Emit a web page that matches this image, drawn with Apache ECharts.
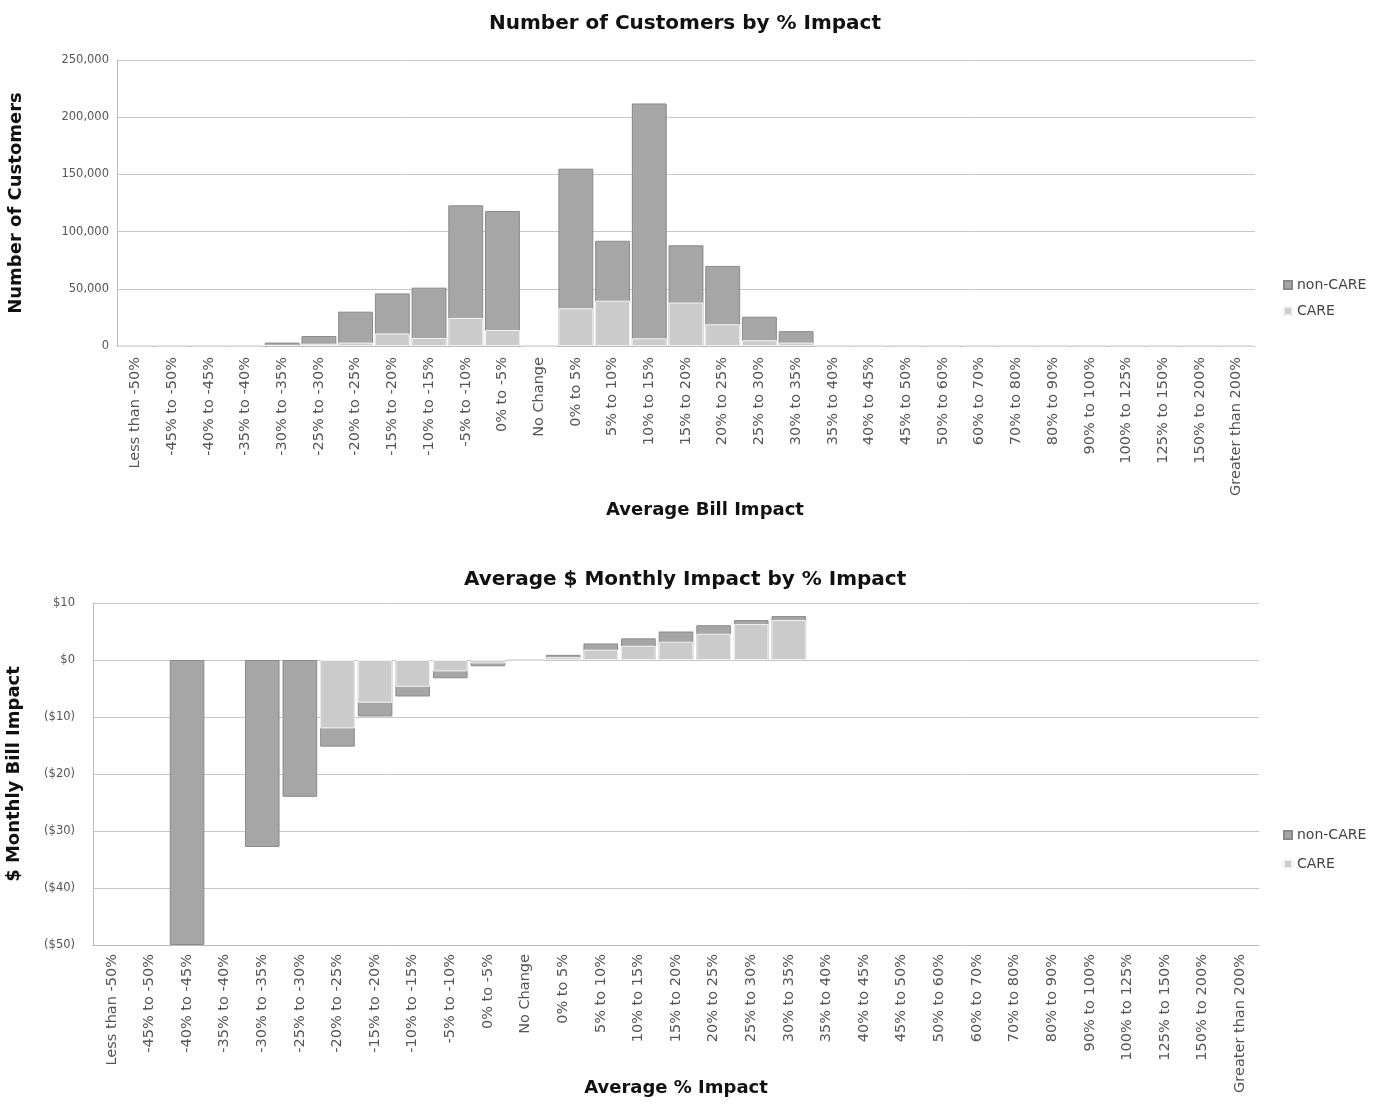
<!DOCTYPE html>
<html>
<head>
<meta charset="utf-8">
<script src="https://cdn.jsdelivr.net/npm/echarts@6/dist/echarts.min.js"></script>
<style>
  html, body { margin: 0; padding: 0; background: #fff; }
  #chart { width: 1385px; height: 1104px; }
</style>
</head>
<body>
<div id="chart"></div>
<script>
// Bill impact buckets shared by both panels
const categories = [
  'Less than -50%', '-45% to -50%', '-40% to -45%', '-35% to -40%', '-30% to -35%',
  '-25% to -30%', '-20% to -25%', '-15% to -20%', '-10% to -15%', '-5% to -10%',
  '0% to -5%', 'No Change', '0% to 5%', '5% to 10%', '10% to 15%', '15% to 20%',
  '20% to 25%', '25% to 30%', '30% to 35%', '35% to 40%', '40% to 45%', '45% to 50%',
  '50% to 60%', '60% to 70%', '70% to 80%', '80% to 90%', '90% to 100%',
  '100% to 125%', '125% to 150%', '150% to 200%', 'Greater than 200%'
];

// Number of customers per bucket
const customersNonCare = [0, 0, 0, 0, 3000, 8700, 30000, 46000, 51000, 123000, 118000, 0,
  155000, 92000, 212000, 88000, 70000, 25600, 13000, 0, 0, 0, 0, 0, 0, 0, 0, 0, 0, 0, 0];
const customersCare = [0, 0, 0, 0, 1000, 2000, 3000, 11000, 7000, 24500, 14000, 0,
  33000, 39600, 6700, 38000, 19000, 5000, 3000, 0, 0, 0, 0, 0, 0, 0, 0, 0, 0, 0, 0];

// Average monthly $ impact per bucket
const dollarsNonCare = [null, null, -50, null, -32.8, -24.0, -15.2, -9.9, -6.4, -3.2, -1.1, 0,
  0.9, 2.9, 3.8, 5.0, 6.1, 7.0, 7.7, null, null, null, null, null, null, null, null, null, null, null, null];
const dollarsCare = [null, null, null, null, null, null, -12.0, -7.5, -4.7, -2.0, -0.6, 0,
  0.5, 1.8, 2.5, 3.2, 4.6, 6.3, 7.0, null, null, null, null, null, null, null, null, null, null, null, null];

// Axis ticks
const customerTicks = { min: 0, max: 250000, interval: 50000 };
const dollarTicks = { min: -50, max: 10, interval: 10 };

const FONT = '"DejaVu Sans", sans-serif';
const nonCareColor = '#a6a6a6';
const careColor = '#cbcbcb';

function fmtCount(v) { return v.toLocaleString('en-US'); }
function fmtDollar(v) { return v < 0 ? '($' + Math.abs(v) + ')' : '$' + v; }

const xLabelStyle = { fontFamily: FONT, fontSize: 14.5, color: '#555' };
const yLabelStyle = { fontFamily: FONT, fontSize: 11.5, color: '#555' };
const nameStyle = { fontFamily: FONT, fontSize: 18, fontWeight: 'bold', color: '#111' };
const titleStyle = { fontFamily: FONT, fontSize: 20, fontWeight: 'bold', color: '#111' };
const legendText = { fontFamily: FONT, fontSize: 14, color: '#444' };

const chart = echarts.init(document.getElementById('chart'), null, { renderer: 'canvas' });

chart.setOption({
  animation: false,
  backgroundColor: '#fff',
  title: [
    { text: 'Number of Customers by % Impact', left: 484, top: 9, textStyle: titleStyle },
    { text: 'Average $ Monthly Impact by % Impact', left: 459, top: 565, textStyle: titleStyle }
  ],
  legend: [
    { orient: 'vertical', left: 1278, top: 273, itemWidth: 8, itemHeight: 8, itemGap: 12,
      icon: 'rect', textStyle: legendText, data: ['non-CARE', 'CARE'] },
    { orient: 'vertical', left: 1278, top: 823, itemWidth: 8, itemHeight: 8, itemGap: 15,
      icon: 'rect', textStyle: legendText, data: ['non-CARE', 'CARE'] }
  ],
  grid: [
    { left: 117, top: 60, width: 1138, height: 286, outerBoundsMode: 'none' },
    { left: 93, top: 603, width: 1166, height: 342, outerBoundsMode: 'none' }
  ],
  xAxis: [
    { type: 'category', gridIndex: 0, data: categories,
      name: 'Average Bill Impact', nameLocation: 'middle', nameGap: 155, nameMoveOverlap: false,
      nameTextStyle: Object.assign({ padding: [0, 0, 0, 38] }, nameStyle),
      axisLine: { lineStyle: { color: '#bbb' } }, axisTick: { show: false },
      axisLabel: Object.assign({ rotate: 90, interval: 0, margin: 11 }, xLabelStyle) },
    { type: 'category', gridIndex: 1, data: categories,
      name: 'Average % Impact', nameLocation: 'middle', nameGap: 134, nameMoveOverlap: false,
      nameTextStyle: nameStyle,
      axisLine: { onZero: false, lineStyle: { color: '#bbb' } }, axisTick: { show: false },
      axisLabel: Object.assign({ rotate: 90, interval: 0, margin: 9 }, xLabelStyle) }
  ],
  yAxis: [
    { type: 'value', gridIndex: 0, min: customerTicks.min, max: customerTicks.max, interval: customerTicks.interval,
      name: 'Number of Customers', nameLocation: 'middle', nameGap: 92, nameMoveOverlap: false,
      nameTextStyle: nameStyle,
      axisLine: { show: true, lineStyle: { color: '#bbb' } }, axisTick: { show: false },
      splitLine: { lineStyle: { color: '#c8c8c8', width: 1 } },
      axisLabel: Object.assign({ formatter: fmtCount, margin: 8 }, yLabelStyle) },
    { type: 'value', gridIndex: 1, min: dollarTicks.min, max: dollarTicks.max, interval: dollarTicks.interval,
      name: '$ Monthly Bill Impact', nameLocation: 'middle', nameGap: 70, nameMoveOverlap: false,
      nameTextStyle: nameStyle,
      axisLine: { show: true, lineStyle: { color: '#bbb' } }, axisTick: { show: false },
      splitLine: { lineStyle: { color: '#c8c8c8', width: 1 } },
      axisLabel: Object.assign({ formatter: fmtDollar, margin: 18 }, yLabelStyle) }
  ],
  series: [
    { name: 'non-CARE', type: 'bar', xAxisIndex: 0, yAxisIndex: 0, data: customersNonCare,
      barGap: '-100%', barCategoryGap: '5%',
      itemStyle: { color: nonCareColor, borderColor: '#8a8a8a', borderWidth: 1 } },
    { name: 'CARE', type: 'bar', xAxisIndex: 0, yAxisIndex: 0, data: customersCare,
      barGap: '-100%', barCategoryGap: '5%',
      itemStyle: { color: careColor, borderColor: '#f2f2f2', borderWidth: 1 } },
    { name: 'non-CARE', type: 'bar', xAxisIndex: 1, yAxisIndex: 1, data: dollarsNonCare,
      barGap: '-100%', barCategoryGap: '8%',
      itemStyle: { color: nonCareColor, borderColor: '#8a8a8a', borderWidth: 1 } },
    { name: 'CARE', type: 'bar', xAxisIndex: 1, yAxisIndex: 1, data: dollarsCare,
      barGap: '-100%', barCategoryGap: '8%',
      itemStyle: { color: careColor, borderColor: '#f2f2f2', borderWidth: 1 } }
  ]
});
</script>
</body>
</html>
